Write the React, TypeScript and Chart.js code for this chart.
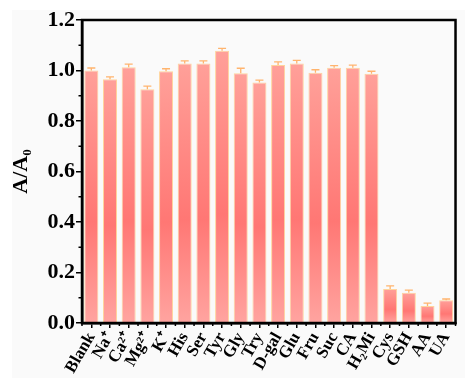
import React, { useEffect, useRef } from "react";
import { Chart, registerables } from "chart.js";
Chart.register(...registerables);

const categories = ["Blank", "Na⁺", "Ca²⁺", "Mg²⁺", "K⁺", "His", "Ser", "Tyr", "Gly", "Try", "D-gal", "Glu", "Fru", "Suc", "CA", "H₂Mi", "Cys", "GSH", "AA", "UA"];
const values = [1.0, 0.965, 1.013, 0.926, 0.997, 1.028, 1.028, 1.078, 0.989, 0.952, 1.022, 1.028, 0.991, 1.011, 1.011, 0.987, 0.135, 0.12, 0.067, 0.09];
const errors = [0.01, 0.01, 0.012, 0.012, 0.01, 0.01, 0.01, 0.01, 0.02, 0.01, 0.012, 0.012, 0.012, 0.008, 0.01, 0.01, 0.012, 0.01, 0.012, 0.005];
const yTicks = [0, 0.2, 0.4, 0.6, 0.8, 1.0, 1.2];
const yMinorTicks = [0.1, 0.3, 0.5, 0.7, 0.9, 1.1];

const FONT = "'Liberation Serif', 'Times New Roman', serif";

const decorPlugin = {
  id: "decor",
  beforeDraw(chart: any) {
    const ctx = chart.ctx;
    ctx.save();
    ctx.fillStyle = "#ffffff";
    ctx.fillRect(0, 0, chart.width, chart.height);
    ctx.fillStyle = "#fafafa";
    ctx.fillRect(12, 10, chart.width - 12, chart.height - 10);
    ctx.restore();
  },
  afterDatasetsDraw(chart: any) {
    const ctx = chart.ctx;
    const meta = chart.getDatasetMeta(0);
    const y = chart.scales.y;
    ctx.save();
    ctx.strokeStyle = "#ffb46e";
    ctx.lineWidth = 1.3;
    meta.data.forEach((bar: any, i: number) => {
      const top = y.getPixelForValue(values[i]);
      const up = y.getPixelForValue(values[i] + errors[i]);
      ctx.beginPath();
      ctx.moveTo(bar.x, top);
      ctx.lineTo(bar.x, up);
      ctx.moveTo(bar.x - 4, up);
      ctx.lineTo(bar.x + 4, up);
      ctx.stroke();
    });
    ctx.restore();
  },
  afterDraw(chart: any) {
    const ctx = chart.ctx;
    const a = chart.chartArea;
    const y = chart.scales.y;
    const x = chart.scales.x;
    ctx.save();
    ctx.strokeStyle = "#000";
    ctx.lineWidth = 1.5;
    yMinorTicks.forEach((v) => {
      const py = y.getPixelForValue(v);
      ctx.beginPath();
      ctx.moveTo(a.left, py);
      ctx.lineTo(a.left - 3.5, py);
      ctx.stroke();
    });
    for (let i = 0; i <= categories.length; i++) {
      const px = x.getPixelForValue(i - 0.5);
      ctx.beginPath();
      ctx.moveTo(px, a.bottom);
      ctx.lineTo(px, a.bottom + 3);
      ctx.stroke();
    }
    ctx.lineWidth = 2.5;
    ctx.strokeRect(a.left, a.top, a.right - a.left, a.bottom - a.top);
    ctx.restore();
  },
};

export default function App() {
  const ref = useRef<HTMLCanvasElement | null>(null);
  useEffect(() => {
    document.body.style.margin = "0";
    const canvas = ref.current!;
    const chart = new Chart(canvas, {
      type: "bar",
      data: {
        labels: categories,
        datasets: [
          {
            data: values,
            backgroundColor: (c: any) => {
              const ch = c.chart;
              const sy = ch.scales && ch.scales.y;
              if (!sy || c.type !== "data") return "#ff8a84";
              const top = sy.getPixelForValue(c.raw);
              const base = sy.getPixelForValue(0);
              if (!isFinite(top) || !isFinite(base) || base - top < 1) return "#ff8a84";
              const g = ch.ctx.createLinearGradient(0, top, 0, base);
              g.addColorStop(0, "#ffa099");
              g.addColorStop(0.6, "#ff7774");
              g.addColorStop(1, "#ffa4a0");
              return g;
            },
            borderColor: "#ffd49c",
            borderWidth: 1,
            barPercentage: 0.75,
            categoryPercentage: 1,
          },
        ],
      },
      options: {
        animation: false,
        responsive: false,
        layout: { padding: { left: 8, top: 20, right: 6, bottom: 0 } },
        plugins: { legend: { display: false }, tooltip: { enabled: false } },
        scales: {
          x: {
            offset: true,
            grid: { display: true, drawOnChartArea: false, drawTicks: true, tickLength: 5, color: "#000", lineWidth: 1.5, offset: false },
            border: { display: true, color: "#000", width: 2.5 },
            ticks: {
              color: "#000",
              font: { family: FONT, size: 17, weight: "bold" },
              minRotation: 60,
              maxRotation: 60,
              autoSkip: false,
              padding: 1,
            },
            afterFit: (s: any) => {
              s.height = 55;
            },
          },
          y: {
            min: 0,
            max: 1.2,
            afterBuildTicks: (s: any) => {
              s.ticks = yTicks.map((v) => ({ value: v }));
            },
            grid: { display: true, drawOnChartArea: false, drawTicks: true, tickLength: 6, color: "#000", lineWidth: 1.5 },
            border: { display: true, color: "#000", width: 2.5 },
            ticks: {
              color: "#000",
              font: { family: FONT, size: 22, weight: "bold" },
              padding: 1,
              callback: (v: any) => Number(v).toFixed(1),
            },
            title: {
              display: true,
              text: "A/A₀",
              color: "#000",
              font: { family: FONT, size: 22, weight: "bold" },
              padding: { top: 0, bottom: 1 },
            },
            afterFit: (s: any) => {
              s.width = 74;
            },
          },
        },
      },
      plugins: [decorPlugin],
    });
    return () => chart.destroy();
  }, []);
  return <canvas ref={ref} width={465} height={378} style={{ display: "block", width: 465, height: 378 }} />;
}
